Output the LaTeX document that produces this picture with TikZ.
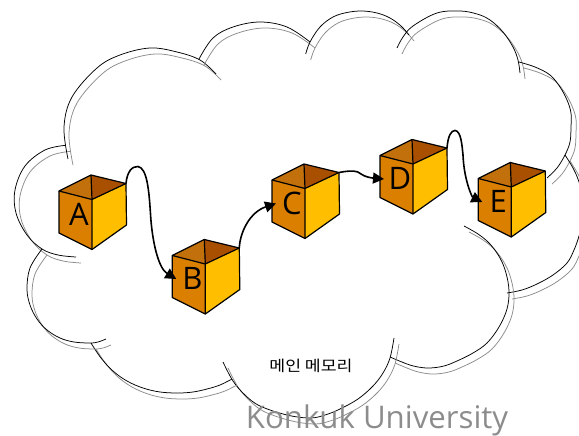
\documentclass[tikz,border=0pt]{standalone}
\usepackage{graphicx}
\usepackage{fontspec}
\usetikzlibrary{arrows.meta}
\setmainfont{Open Sans}
\newfontfamily\krfont{Noto Sans CJK KR}
\definecolor{faceL}{HTML}{DB7F00}
\definecolor{faceR}{HTML}{FFBF00}
\definecolor{inL}{HTML}{C2700C}
\definecolor{inR}{HTML}{A84F00}
\definecolor{shade}{HTML}{8C8C8C}
\tikzset{
  x=1pt,y=-1pt,
  edgeline/.style={draw=black,line width=1.2pt,line join=round},
  lobe/.style={draw=black,line width=0.75pt},
  lobeshade/.style={draw=shade,line width=0.75pt},
  conn/.style={draw=black,line width=1.6pt,-{Triangle[length=11pt,width=11pt]}},
  letter/.style={font=\fontsize{31}{31}\selectfont,inner sep=0pt}
}
\newcommand{\mybox}[4]{%
  \begin{scope}[shift={(#2,#3)}]
    \fill[faceL] (0,0) -- (33,8.5) -- (33,58.5) -- (0,42) -- cycle;
    \fill[faceR] (33,8.5) -- (67,-7.5) -- (67.5,34) -- (33,58.5) -- cycle;
    \fill[inL] (0,0) -- (32,-16) -- (33,8.5) -- cycle;
    \fill[inR] (32,-16) -- (67,-7.5) -- (33,8.5) -- cycle;
    \draw[edgeline] (0,0) -- (32,-16) -- (67,-7.5) -- (33,8.5) -- cycle;
    \draw[edgeline] (32,-16) -- (33,8.5) -- (33,58.5);
    \draw[edgeline] (0,0) -- (0,42) -- (33,58.5) -- (67.5,34) -- (67,-7.5);
    \node[letter] (#1) at (20,23) {#4};
    \coordinate (#1out) at (67,-7.5);
    \coordinate (#1in) at (4,23.5);
  \end{scope}}
\newcommand{\cloudarc}[1]{%
  \draw[lobeshade,shift={(5,6)}] plot[smooth,tension=0.6] coordinates {#1};
  \draw[lobe] plot[smooth,tension=0.6] coordinates {#1};}
\begin{document}
\begin{tikzpicture}
\useasboundingbox (0,0) rectangle (579,436);
\fill[white] (0,0) rectangle (579,436);
\begin{scope}
\clip (0,0) rectangle (579,436);
\cloudarc{(65.7,145.3) (45,150) (25,166) (15,190) (16,213) (27,235) (42,249) (58,255) (76,257)}
\cloudarc{(68,159) (64,127) (72,97) (97,68) (120,55) (150,48) (177,52) (200,60) (216,74)}
\cloudarc{(199,59) (213,38) (233,27) (260,22) (287,27) (310,42)}
\cloudarc{(305.7,54) (310,42) (320,27) (333,17) (347,12.5) (362,11) (377,13) (390,18) (401,26) (409,35)}
\cloudarc{(397,48) (403,37) (413,26) (437,13) (460,11) (477,14) (490,20) (503,32) (513,47) (518,60) (520,73)}
\cloudarc{(519,62) (535,67) (550,75) (560,87) (567,100) (571,113) (571,127) (570,142) (565,155) (557,168) (547,178)}
\cloudarc{(565,155) (573,168) (579,182) (583,200) (583,218) (579,236) (574,250) (567,263) (553,275) (537,284) (522,290) (507,293)}
\cloudarc{(464,226) (478,234) (490,244) (500,258) (506,273) (509,291) (507,309) (499,327) (487,343) (473,353) (457,361) (444,366) (430,368) (418,367) (407,364) (390,357)}
\cloudarc{(394,338) (390,358) (383,373) (373,386) (358,399) (340,409) (325,415) (310,418) (287,415) (260,406) (245,395) (233,381) (223,362)}
\cloudarc{(232,379) (220,385) (207,389) (193,392) (178,393) (160,392) (143,388) (127,381) (113,371) (101,358) (91,343)}
\cloudarc{(106,339) (98,342) (90,343) (74,342) (60,338) (47,330) (37,319) (30,305) (27,289) (30,268) (42,249)}
\end{scope}
\mybox{A}{59}{191}{A}
\mybox{B}{172.3}{255.5}{B}
\mybox{C}{272}{180}{C}
\mybox{D}{380}{155.5}{D}
\mybox{E}{478.3}{178.5}{E}
\draw[conn] (Aout) .. controls (127,172) and (132,166) .. (138,166.5) .. controls (147,168) and (149,190) .. (150.5,214) .. controls (152,240) and (158,268) .. (Bin);
\draw[conn] (Bout) .. controls (240,232) and (250,212) .. (Cin);
\draw[conn] (Cout) .. controls (352,170) and (358,171) .. (361,174) .. controls (365,177) and (372,178) .. (Din);
\draw[conn] (Dout) .. controls (448,136) and (451,130.5) .. (455,130.5) .. controls (461,131) and (462,145) .. (463,155) .. controls (464,180) and (472,197) .. (Ein);
\node[font=\krfont\fontsize{15}{15}\selectfont,inner sep=0pt] (mem) at (311,366) {\scalebox{1.15}[1]{메인 메모리}};
\node[text=shade,font=\fontsize{31.2}{31.2}\selectfont,inner sep=0pt,anchor=base] (univ) at (377,428) {Konkuk University};
\end{tikzpicture}
\end{document}
